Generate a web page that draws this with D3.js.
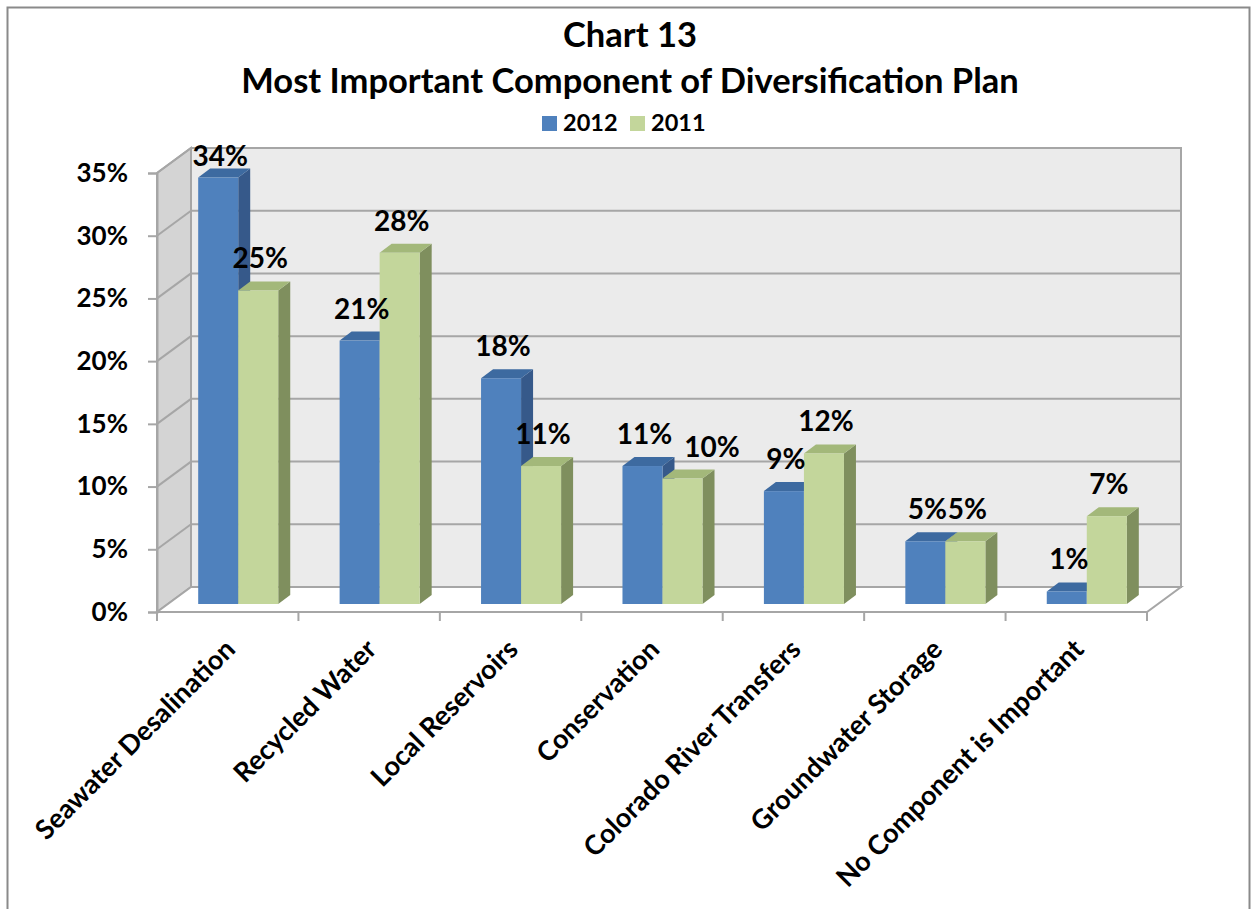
<!DOCTYPE html>
<html>
<head>
<meta charset="utf-8">
<script src="https://cdn.jsdelivr.net/npm/d3@7"></script>
<style>
  body { margin: 0; background: #fff; }
  text { font-family: Lato, "Open Sans", sans-serif; font-weight: bold; fill: #000; }
</style>
</head>
<body>
<div class="graph"></div>
<script>
// chart data
const categories = ['Seawater Desalination', 'Recycled Water', 'Local Reservoirs', 'Conservation',
  'Colorado River Transfers', 'Groundwater Storage', 'No Component is Important'];
const seriesNames = ['2012', '2011'];
const values2012 = [34, 21, 18, 11, 9, 5, 1];
const values2011 = [25, 28, 11, 10, 12, 5, 7];
const yTicks = [0, 5, 10, 15, 20, 25, 30, 35];
const titleLines = ['Chart 13', 'Most Important Component of Diversification Plan'];

const width = 1253;
const height = 909;

const svg = d3.select('.graph').append('svg')
  .attr('width', width)
  .attr('height', height);

// outer frame
svg.append('rect')
  .attr('x', 7.5).attr('y', 7.5)
  .attr('width', 1242).attr('height', 920)
  .attr('fill', '#fff')
  .attr('stroke', '#8a8a8a')
  .attr('stroke-width', 2);

// title
svg.selectAll('.title')
  .data(titleLines)
  .enter().append('text')
  .attr('class', 'title')
  .attr('x', 630)
  .attr('y', (d, i) => 47 + i * 46)
  .attr('text-anchor', 'middle')
  .style('font-size', '34.5px')
  .text(d => d);

// scales
const x0 = d3.scaleBand()
  .domain(categories)
  .range([157, 1147])
  .paddingInner(0.434)
  .paddingOuter(0.217);

const x1 = d3.scaleBand()
  .domain(seriesNames)
  .range([0, x0.bandwidth()]);

const y = d3.scaleLinear()
  .domain([0, 35])
  .range([612, 173]);

const color = d3.scaleOrdinal()
  .domain(seriesNames)
  .range(['#4f81bd', '#c3d69b']);
const topColor = d3.scaleOrdinal().domain(seriesNames).range(['#3d6aa0', '#a3b87a']);
const sideColor = d3.scaleOrdinal().domain(seriesNames).range(['#36598a', '#7f8f5e']);

// 3d offsets: whole depth of the box, and where bars sit in it
const depth = { dx: 34, dy: -25 };
const barFront = { dx: 10.5, dy: -8 };
const barDepth = { dx: 12, dy: -9 };

const x0min = 157, x0max = 1147;
const gridColor = '#a6a6a6';

// side wall
svg.append('polygon')
  .attr('points', [
    [x0min, y(35)], [x0min + depth.dx, y(35) + depth.dy],
    [x0min + depth.dx, y(0) + depth.dy], [x0min, y(0)]
  ].join(' '))
  .attr('fill', '#d4d4d4')
  .attr('stroke', gridColor)
  .attr('stroke-width', 2);

// back wall
svg.append('rect')
  .attr('x', x0min + depth.dx)
  .attr('y', y(35) + depth.dy)
  .attr('width', x0max - x0min)
  .attr('height', y(0) - y(35))
  .attr('fill', '#ebebeb')
  .attr('stroke', gridColor)
  .attr('stroke-width', 2);

// floor
svg.append('polygon')
  .attr('points', [
    [x0min, y(0)], [x0max, y(0)],
    [x0max + depth.dx, y(0) + depth.dy], [x0min + depth.dx, y(0) + depth.dy]
  ].join(' '))
  .attr('fill', '#fff')
  .attr('stroke', gridColor)
  .attr('stroke-width', 2);

// gridlines on back wall and side wall
const grid = svg.append('g');
grid.selectAll('.gback')
  .data(yTicks.slice(1))
  .enter().append('line')
  .attr('x1', x0min + depth.dx)
  .attr('x2', x0max + depth.dx)
  .attr('y1', d => y(d) + depth.dy)
  .attr('y2', d => y(d) + depth.dy)
  .attr('stroke', gridColor)
  .attr('stroke-width', 2);
grid.selectAll('.gside')
  .data(yTicks.slice(1))
  .enter().append('line')
  .attr('x1', x0min)
  .attr('x2', x0min + depth.dx)
  .attr('y1', d => y(d))
  .attr('y2', d => y(d) + depth.dy)
  .attr('stroke', gridColor)
  .attr('stroke-width', 2);

// y axis
const yAxis = svg.append('g')
  .attr('transform', `translate(${x0min},0)`)
  .call(d3.axisLeft(y).tickValues(yTicks).tickSize(9).tickPadding(20).tickFormat(d => d + '%'));
yAxis.select('.domain').attr('stroke', gridColor).attr('stroke-width', 2);
yAxis.selectAll('.tick line').attr('stroke', gridColor).attr('stroke-width', 2);
yAxis.selectAll('.tick text')
  .attr('fill', '#000')
  .style('font-family', 'Lato, sans-serif')
  .style('font-weight', 'bold')
  .style('font-size', '26px');

// x axis ticks along front edge of floor
const xTickPos = categories.map(c => x0(c) - x0.step() * x0.paddingInner() / 2).concat([x0max]);
svg.selectAll('.xtick')
  .data(xTickPos)
  .enter().append('line')
  .attr('x1', d => d).attr('x2', d => d)
  .attr('y1', y(0)).attr('y2', y(0) + 9)
  .attr('stroke', gridColor)
  .attr('stroke-width', 2);

// bars
const rows = [];
categories.forEach((c, i) => {
  rows.push({ cat: c, series: '2012', value: values2012[i] });
  rows.push({ cat: c, series: '2011', value: values2011[i] });
});

const bw = x1.bandwidth();
const bars = svg.selectAll('.bar')
  .data(rows)
  .enter().append('g')
  .attr('class', 'bar');

function barGeom(d) {
  const xl = x0(d.cat) + x1(d.series) + barFront.dx;
  const yb = y(0) + barFront.dy;
  const yt = y(d.value) + barFront.dy;
  return { xl, xr: xl + bw, yb, yt };
}

bars.append('polygon')
  .attr('points', d => {
    const g = barGeom(d);
    return [[g.xr, g.yb], [g.xr + barDepth.dx, g.yb + barDepth.dy],
      [g.xr + barDepth.dx, g.yt + barDepth.dy], [g.xr, g.yt]].join(' ');
  })
  .attr('fill', d => sideColor(d.series));

bars.append('polygon')
  .attr('points', d => {
    const g = barGeom(d);
    return [[g.xl, g.yt], [g.xl + barDepth.dx, g.yt + barDepth.dy],
      [g.xr + barDepth.dx, g.yt + barDepth.dy], [g.xr, g.yt]].join(' ');
  })
  .attr('fill', d => topColor(d.series));

bars.append('rect')
  .attr('x', d => barGeom(d).xl)
  .attr('y', d => barGeom(d).yt)
  .attr('width', bw)
  .attr('height', d => barGeom(d).yb - barGeom(d).yt)
  .attr('fill', d => color(d.series));

// value labels
const vlabels = svg.selectAll('.vlabel')
  .data(rows)
  .enter().append('text')
  .attr('class', 'vlabel')
  .attr('x', d => barGeom(d).xl + bw / 2 + 2)
  .attr('y', d => Math.max(barGeom(d).yt + barDepth.dy - 13, 166))
  .attr('text-anchor', 'middle')
  .style('font-size', '28px')
  .text(d => d.value + '%');

// push a 2011 label to the right when it runs into the 2012 label of its category
const labelNodes = vlabels.nodes();
for (let i = 0; i < labelNodes.length; i += 2) {
  const a = labelNodes[i].getBBox();
  const b = labelNodes[i + 1].getBBox();
  const overlapX = a.x + a.width - b.x;
  const overlapY = Math.min(a.y + a.height, b.y + b.height) - Math.max(a.y, b.y);
  if (overlapX > 3 && overlapY > 6) {
    const el = d3.select(labelNodes[i + 1]);
    el.attr('x', +el.attr('x') + overlapX + 12);
  }
}

// category labels
svg.selectAll('.xlabel')
  .data(categories)
  .enter().append('text')
  .attr('class', 'xlabel')
  .attr('transform', d => `translate(${x0(d) + x0.bandwidth() / 2 + 9},651) rotate(-45)`)
  .attr('text-anchor', 'end')
  .style('font-size', '27px')
  .text(d => d);

// legend
const legend = svg.selectAll('.legend')
  .data(seriesNames)
  .enter().append('g')
  .attr('class', 'legend')
  .attr('transform', (d, i) => `translate(${542 + i * 88},116)`);

legend.append('rect')
  .attr('width', 15)
  .attr('height', 15)
  .attr('fill', color);

legend.append('text')
  .attr('x', 21)
  .attr('y', 15)
  .style('font-size', '23.5px')
  .text(d => d);
</script>
</body>
</html>
